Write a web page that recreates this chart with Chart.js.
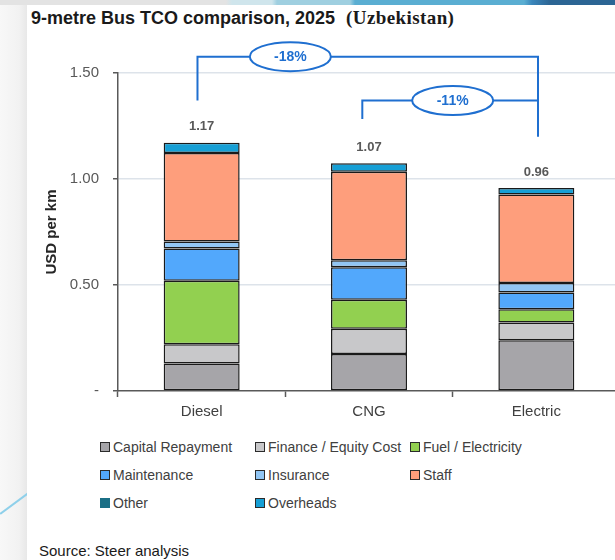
<!DOCTYPE html>
<html>
<head>
<meta charset="utf-8">
<title>9-metre Bus TCO comparison, 2025</title>
<script src="https://cdn.jsdelivr.net/npm/chart.js@4.4.1/dist/chart.umd.min.js"></script>
<style>
    html, body { margin: 0; padding: 0; overflow: hidden; }
    body {
        width: 615px; height: 560px; position: relative;
        background: linear-gradient(90deg, #f8f8f8 0, #f2f2f2 19px, #e8e8e8 27px);
        font-family: "Liberation Sans", Arial, sans-serif;
    }
    #topStrip {
        position: absolute; left: 0; top: 0; width: 615px; height: 5px;
        background: linear-gradient(90deg, #e3e3e3 0, #e3e3e3 226px, #cfe5ec 232px, #cfe5ec 272px,
            #9fcfe0 277px, #9fcfe0 350px, #5aaed2 355px, #5aaed2 524px, #3a86bb 532px, #2c6594 550px, #2c6594 615px);
    }
    #swoosh {
        position: absolute; left: 0; top: 513px; width: 40px; height: 1.5px;
        background: #8fd0ea; transform-origin: 0 50%; transform: rotate(-36.5deg);
    }
    #card { position: absolute; left: 27px; top: 5px; right: 0; bottom: 0; background: #fff; }
    #title {
        position: absolute; left: 31px; top: 9px; line-height: 18px; white-space: nowrap;
        font-size: 18px; font-weight: bold; color: #1a1a1a;
    }
    #title .country {
        font-family: "Liberation Serif", "Times New Roman", serif; font-size: 19px;
        margin-left: 11px; letter-spacing: 0.4px;
    }
    #chart { position: absolute; left: 0; top: 0; }
    #legend {
        position: absolute; left: 100px; top: 433px;
        display: grid; grid-template-columns: 155px 155px 155px; grid-auto-rows: 28px;
    }
    .item { display: flex; align-items: center; font-size: 14px; color: #404040; white-space: nowrap; }
    .box { width: 8px; height: 8px; border: 1.5px solid #2b2b2b; margin-right: 3px; }
    #source { position: absolute; left: 39px; top: 542px; font-size: 15px; line-height: 18px; color: #1a1a1a; }
</style>
</head>
<body>
<div id="topStrip"></div>
<div id="swoosh"></div>
<div id="card"></div>
<div id="title">9-metre Bus TCO comparison, 2025<span class="country">(Uzbekistan)</span></div>
<canvas id="chart" width="620" height="430"></canvas>
<div id="legend"></div>
<div id="source">Source: Steer analysis</div>

<script>
// Cost per km by component, USD
const categories = ["Diesel", "CNG", "Electric"];
const capitalRepayment = [0.130, 0.175, 0.239];
const financeEquity = [0.090, 0.119, 0.084];
const fuelElectricity = [0.300, 0.136, 0.063];
const maintenance = [0.152, 0.154, 0.079];
const insurance = [0.033, 0.033, 0.044];
const staff = [0.418, 0.417, 0.418];
const other = [0, 0, 0];
const overheads = [0.048, 0.040, 0.030];
const yTicks = [0, 0.5, 1.0, 1.5];

const series = [
    { label: "Capital Repayment", data: capitalRepayment, color: "#a6a5a9" },
    { label: "Finance / Equity Cost", data: financeEquity, color: "#c8c8ca" },
    { label: "Fuel / Electricity", data: fuelElectricity, color: "#92d050" },
    { label: "Maintenance", data: maintenance, color: "#52a8fc" },
    { label: "Insurance", data: insurance, color: "#92c6f4" },
    { label: "Staff", data: staff, color: "#fe9e7c" },
    { label: "Other", data: other, color: "#1b6f86", noBorder: true },
    { label: "Overheads", data: overheads, color: "#169fd5" }
];

const totals = categories.map((c, i) => series.reduce((s, d) => s + d.data[i], 0));

// Comparison brackets: x in category units, heights in USD per km
const brackets = [
    { from: -0.025, to: 2.01, top: 1.577, fromEnd: 1.37, toEnd: 1.20, labelAt: 0.53, base: 0, target: 2 },
    { from: 0.96, to: 2.01, top: 1.37, fromEnd: 1.283, toEnd: 1.20, labelAt: 1.5, base: 1, target: 2 }
];

const totalsPlugin = {
    id: "totals",
    afterDatasetsDraw(chart) {
        const { ctx, scales: { x, y } } = chart;
        ctx.save();
        ctx.font = 'bold 13px "Liberation Sans", Arial';
        ctx.fillStyle = "#595959";
        ctx.textAlign = "center";
        ctx.textBaseline = "middle";
        totals.forEach((t, i) => {
            ctx.fillText(t.toFixed(2), x.getPixelForValue(i), y.getPixelForValue(t) - 16);
        });

        // percentage change brackets
        const blue = "#1f6fd0";
        brackets.forEach(b => {
            const x1 = x.getPixelForValue(b.from), x2 = x.getPixelForValue(b.to);
            const yTop = y.getPixelForValue(b.top);
            ctx.strokeStyle = blue;
            ctx.lineWidth = 2;
            ctx.beginPath();
            ctx.moveTo(x1, y.getPixelForValue(b.fromEnd));
            ctx.lineTo(x1, yTop);
            ctx.lineTo(x2, yTop);
            ctx.lineTo(x2, y.getPixelForValue(b.toEnd));
            ctx.stroke();

            const cx = x.getPixelForValue(b.labelAt);
            ctx.beginPath();
            ctx.ellipse(cx, yTop, 40.5, 14.5, 0, 0, Math.PI * 2);
            ctx.fillStyle = "#fff";
            ctx.fill();
            ctx.stroke();

            const pct = Math.round((totals[b.target] / totals[b.base] - 1) * 100);
            ctx.fillStyle = blue;
            ctx.font = 'bold 14px "Liberation Sans", Arial';
            ctx.fillText(pct + "%", cx, yTop + 0.5);
        });
        ctx.restore();
    }
};

const chart = new Chart(document.getElementById("chart"), {
    type: "bar",
    data: {
        labels: categories,
        datasets: series.map(s => ({
            label: s.label,
            data: s.data,
            backgroundColor: s.color,
            borderColor: "#1a1a1a",
            borderWidth: s.noBorder ? 0 : 1.5,
            borderSkipped: false,
            categoryPercentage: 1,
            barPercentage: 0.454
        }))
    },
    options: {
        responsive: false,
        animation: false,
        layout: { padding: { top: 73, left: 0, right: 0, bottom: 0 } },
        plugins: { legend: { display: false }, tooltip: { enabled: false } },
        font: { family: '"Liberation Sans", Arial, sans-serif' },
        scales: {
            x: {
                stacked: true,
                grid: { drawOnChartArea: false, drawTicks: true, tickLength: 6, tickColor: "#595959", tickWidth: 1.5, offset: true },
                border: { color: "#595959", width: 1.5 },
                ticks: { color: "#404040", font: { size: 15 }, padding: 6 },
                afterFit(scale) { scale.height = 39; }
            },
            y: {
                stacked: true,
                min: 0,
                max: 1.5,
                afterBuildTicks(scale) { scale.ticks = yTicks.map(v => ({ value: v })); },
                ticks: {
                    callback: v => v === 0 ? "-" : v.toFixed(2),
                    color: "#595959", font: { size: 15 }, padding: 14
                },
                grid: {
                    color: ctx => ctx.tick && ctx.tick.value === 0 ? "rgba(0,0,0,0)" : "#dde3ea",
                    lineWidth: 1.5, tickColor: "#595959", tickLength: 5, tickWidth: 1.5
                },
                border: { color: "#595959", width: 1.5 },
                title: {
                    display: true, text: "USD per km", color: "#262626",
                    font: { size: 15, weight: "bold" }, padding: { top: 43, bottom: 0 }
                },
                afterFit(scale) { scale.width = 118; }
            }
        }
    },
    plugins: [totalsPlugin]
});

// Legend laid out in three columns
const legend = document.getElementById("legend");
chart.data.datasets.forEach((ds, i) => {
    const item = document.createElement("div");
    item.className = "item";
    const box = document.createElement("span");
    box.className = "box";
    box.style.background = ds.backgroundColor;
    if (series[i].noBorder) { box.style.border = "none"; box.style.width = "10px"; box.style.height = "10px"; }
    item.appendChild(box);
    item.appendChild(document.createTextNode(ds.label));
    legend.appendChild(item);
});
</script>
</body>
</html>
